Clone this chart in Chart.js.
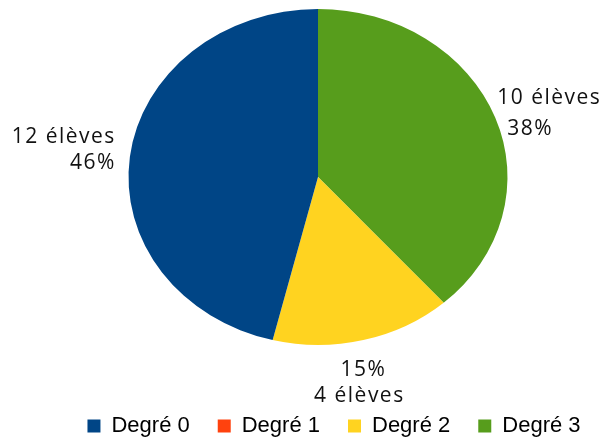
<!DOCTYPE html>
<html>
<head>
<meta charset="utf-8">
<script src="https://cdn.jsdelivr.net/npm/chart.js@4/dist/chart.umd.min.js"></script>
<style>
  html, body { margin: 0; padding: 0; background: #fff; }
  #wrap { width: 602px; height: 437px; position: relative; }
</style>
</head>
<body>
<div id="wrap"><canvas id="myPie"></canvas></div>
<script>
// donnees
const categories = ['Degré 0', 'Degré 1', 'Degré 2', 'Degré 3'];
const eleves = [12, 0, 4, 10];
const couleurs = ['#004586', '#ff420e', '#ffd320', '#579d1c'];

// LibreOffice tourne dans l'autre sens, donc on inverse
const labelsPie = categories.slice().reverse();
const dataPie = eleves.slice().reverse();
const colorsPie = couleurs.slice().reverse();
const total = eleves.reduce((a, b) => a + b, 0);

// ellipse du camembert
const cible = { cx: 318, cy: 177, rx: 189.5, ry: 168 };

const ellipsePlugin = {
  id: 'ellipse',
  beforeDatasetsDraw(chart) {
    const arc = chart.getDatasetMeta(0).data[0];
    const ctx = chart.ctx;
    ctx.save();
    ctx.translate(cible.cx, cible.cy);
    ctx.scale(cible.rx / arc.outerRadius, cible.ry / arc.outerRadius);
    ctx.translate(-arc.x, -arc.y);
  },
  afterDatasetsDraw(chart) {
    chart.ctx.restore();
  }
};

const etiquettesPlugin = {
  id: 'etiquettes',
  afterDraw(chart) {
    const ctx = chart.ctx;
    const meta = chart.getDatasetMeta(0);
    ctx.save();
    ctx.font = '21px "Open Sans"';
    ctx.letterSpacing = '1.5px';
    ctx.fillStyle = '#111';
    meta.data.forEach((arc, i) => {
      const v = dataPie[i];
      if (!v) return;
      const mid = (arc.startAngle + arc.endAngle) / 2;
      const px = cible.cx + cible.rx * Math.cos(mid);
      const py = cible.cy + cible.ry * Math.sin(mid);
      const txtN = v + ' élèves';
      const txtP = Math.round(v / total * 100) + '%';
      if (Math.sin(mid) > 0.8) {
        // en bas
        ctx.textAlign = 'center';
        ctx.fillText(txtP, px, py + 30);
        ctx.fillText(txtN, px - 4, py + 56);
      } else if (Math.cos(mid) < 0) {
        ctx.textAlign = 'right';
        ctx.fillText(txtN, px - 14, py - 20);
        ctx.fillText(txtP, px - 14, py + 6);
      } else {
        ctx.textAlign = 'left';
        ctx.fillText(txtN, px + 2, py - 19);
        ctx.fillText(txtP, px + 12, py + 12);
      }
    });
    ctx.restore();
  }
};

const ctx = document.getElementById('myPie').getContext('2d');

new Chart(ctx, {
  type: 'pie',
  data: {
    labels: labelsPie,
    datasets: [{
      data: dataPie,
      backgroundColor: colorsPie,
      borderWidth: 0
    }]
  },
  options: {
    responsive: true,
    maintainAspectRatio: false,
    animation: false,
    devicePixelRatio: 1,
    layout: {
      padding: { left: 30, right: -36, bottom: -10 }
    },
    plugins: {
      tooltip: { enabled: false },
      legend: {
        position: 'bottom',
        reverse: true,
        labels: {
          boxWidth: 13,
          boxHeight: 13,
          padding: 28,
          color: '#000',
          font: { family: '"Liberation Sans", Arial, sans-serif', size: 22 }
        }
      }
    }
  },
  plugins: [ellipsePlugin, etiquettesPlugin]
});
</script>
</body>
</html>
